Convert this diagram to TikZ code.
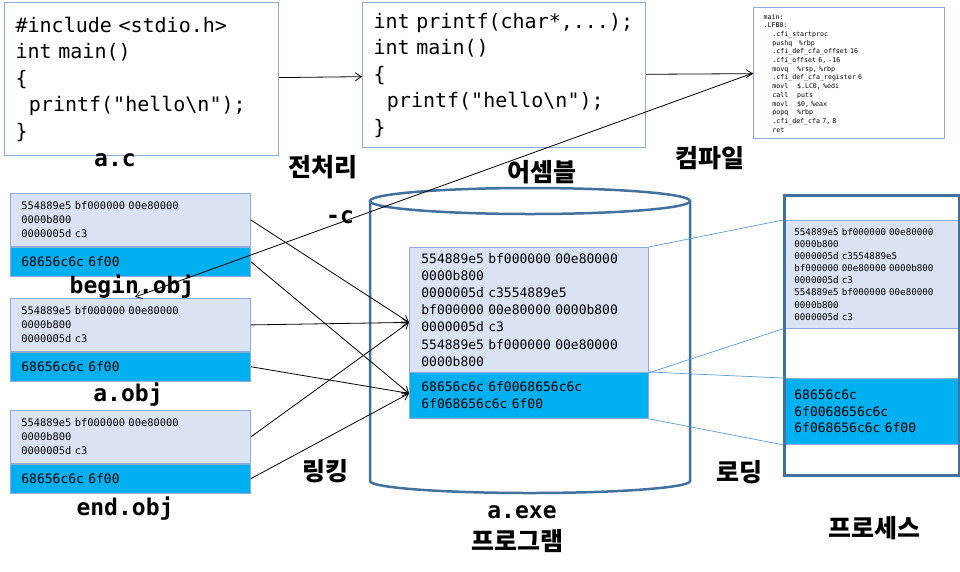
\documentclass[tikz,border=0pt]{standalone}
\usepackage{fontspec}
\IfFontExistsTF{DejaVuSansMono.ttf}
  {\setmonofont{DejaVuSansMono.ttf}[BoldFont=DejaVuSansMono-Bold.ttf]}
  {\setmonofont{Latin Modern Mono}}
\newfontfamily\kor{Noto Sans CJK KR}
\usetikzlibrary{arrows.meta,positioning}

\definecolor{paleblue}{HTML}{DAE3F3}
\definecolor{paleline}{HTML}{8FAADC}
\definecolor{hexblue}{HTML}{00B0F0}
\definecolor{darkline}{HTML}{41719C}
\definecolor{thinline}{HTML}{5B9BD5}

\newcommand\fs[2]{\fontsize{#1}{#2}\selectfont}
% mono text, one space = one character
\newcommand\tfs[2]{\ttfamily\fontsize{#1}{#2}\selectfont
  \fontdimen2\font=\fontcharwd\font`0\relax
  \fontdimen3\font=0pt\relax \fontdimen4\font=0pt\relax}

\tikzset{
  codebox/.style={draw=paleline, line width=1.2pt, anchor=north west, align=left, inner xsep=10pt, inner ysep=0pt},
  hexlight/.style={draw=paleline, fill=paleblue, line width=0.8pt, anchor=north west, align=left, inner xsep=11pt, inner ysep=0pt},
  hexdark/.style={hexlight, fill=hexblue},
  filename/.style={font=\ttfamily\bfseries\fs{23}{23}, anchor=base, inner sep=0pt},
  stage/.style={font=\kor\bfseries\fs{25}{25}, inner sep=0pt},
  cyl/.style={draw=darkline, line width=2.5pt},
  link/.style={-{Straight Barb[length=6pt,width=8pt]}, line width=0.8pt},
  memline/.style={draw=thinline, line width=0.7pt},
}

\begin{document}
\begin{tikzpicture}[x=1pt,y=-1pt]
\useasboundingbox (0,0) rectangle (960,571);
% program file
\draw[cyl] (370,201) -- (370,481) arc[start angle=180, end angle=360, x radius=160pt, y radius=12pt] -- (690,201);
\draw[cyl] (530,201) ellipse[x radius=160pt, y radius=13pt];

% source, preprocessed, assembly
\node[codebox, minimum width=274pt, minimum height=153pt, text width=252pt, font=\tfs{20}{26.5}] (ac) at (4,2)
  {\#include <stdio.h>\\int main()\\\{\\~~printf("hello\textbackslash n");\\\}};
\node[codebox, minimum width=283pt, minimum height=145pt, text width=261pt, font=\tfs{20}{26.5}] (pre) at (362,2)
  {int printf(char*,...);\\int main()\\\{\\~~printf("hello\textbackslash n");\\\}};
\node[codebox, minimum width=191pt, minimum height=131pt, text width=171pt, font=\tfs{6.6}{8.7}] (asm) at (753,7)
  {main:\\.LFB0:\\~~~~.cfi\_startproc\\~~~~pushq~~~\%rbp\\~~~~.cfi\_def\_cfa\_offset 16\\~~~~.cfi\_offset 6, -16\\
   ~~~~movq~~~~\%rsp, \%rbp\\~~~~.cfi\_def\_cfa\_register 6\\~~~~movl~~~~\$.LC0, \%edi\\~~~~call~~~~puts\\
   ~~~~movl~~~~\$0, \%eax\\~~~~popq~~~~\%rbp\\~~~~.cfi\_def\_cfa 7, 8\\~~~~ret};
\draw[link] (ac) -- (pre);
\draw[link] (pre) -- (asm);

% object files
\foreach \n/\y in {b/193,a/298,e/410}{
  \node[hexlight, minimum width=240pt, minimum height=53pt, text width=218pt, font=\tfs{10.4}{13.8}] (\n light) at (10,\y)
    {554889e5 bf000000 00e80000\\0000b800\\0000005d c3};
  \node[hexdark, minimum width=240pt, minimum height=29pt, text width=218pt, font=\tfs{13}{16}, below=0pt of \n light] (\n dark)
    {68656c6c 6f00};
}
\coordinate (cend) at (135,297);
\draw[link] (asm.west) -- (cend);

% executable
\node[hexlight, minimum width=239pt, minimum height=125pt, text width=215pt, font=\tfs{13}{17.2}] (xlight) at (409,247)
  {554889e5 bf000000 00e80000\\0000b800\\0000005d c3554889e5\\bf000000 00e80000 0000b800\\0000005d c3\\554889e5 bf000000 00e80000\\0000b800};
\node[hexdark, minimum width=239pt, minimum height=46pt, text width=215pt, font=\tfs{13}{17}] (xdark) at (409,372)
  {68656c6c 6f0068656c6c\\6f068656c6c 6f00};
\coordinate (xin) at ([yshift=-12.5pt]xlight.west);
\coordinate (din) at ([yshift=2pt]xdark.west);
\foreach \n in {b,a,e}{
  \draw[link] (\n light.east) -- (xin);
  \draw[link] (\n dark.east) -- (din);
}

% process
\node[hexlight, minimum width=175pt, minimum height=108pt, text width=153pt, font=\tfs{9.2}{12.1}] (plight) at (783,220)
  {554889e5 bf000000 00e80000\\0000b800\\0000005d c3554889e5\\bf000000 00e80000 0000b800\\0000005d c3\\554889e5 bf000000 00e80000\\0000b800\\0000005d c3};
\node[hexdark, minimum width=175pt, minimum height=66pt, text width=153pt, font=\tfs{13}{16.7}] (pdark) at (783,378)
  {68656c6c\\6f0068656c6c\\6f068656c6c 6f00};
\node[draw=darkline, line width=2.5pt, anchor=north west, minimum width=175pt, minimum height=280pt] (proc) at (783,194) {};
\draw[memline] (xlight.north east) -- (plight.north west);
\draw[memline] (xlight.south east) -- (plight.south west);
\draw[memline] (xdark.north east) -- (pdark.north west);
\draw[memline] (xdark.south east) -- (pdark.south west);

% labels
\node[filename] (cname) at (115,166) {a.c};
\node[filename] (bname) at (132,293) {begin.obj};
\node[filename] (aname) at (128,401) {a.obj};
\node[filename] (ename) at (125,515) {end.obj};
\node[filename] (xname) at (522,518) {a.exe};
\node[filename] (opt) at (340,223) {-c};
\node[stage] (prep) at (323,167) {전처리};
\node[stage] (asmb) at (542,172) {어셈블};
\node[stage] (comp) at (710,158) {컴파일};
\node[stage] (lnk) at (325,471) {링킹};
\node[stage] (load) at (739,472) {로딩};
\node[stage] (prog) at (517,541) {프로그램};
\node[stage] (procname) at (874,528) {프로세스};
\end{tikzpicture}
\end{document}
